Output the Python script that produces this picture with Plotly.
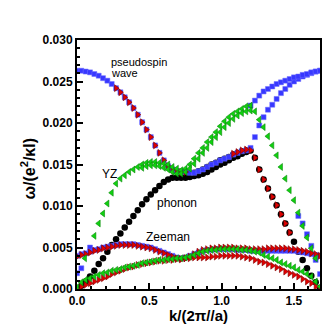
#!/usr/bin/env python
# -*- coding: utf-8 -*-

"""
色散关系图

赝自旋波、YZ、声子和塞曼模式的 ω(k) 散点图
"""

import plotly.graph_objects as go

# k 网格 (单位 2π/a)
K = [0.00, 0.03, 0.06, 0.09, 0.12, 0.15, 0.18, 0.21, 0.24, 0.27,
     0.30, 0.33, 0.36, 0.39, 0.42, 0.45, 0.48, 0.51, 0.54, 0.57,
     0.60, 0.63, 0.66, 0.69, 0.72, 0.75, 0.78, 0.81, 0.84, 0.87,
     0.90, 0.93, 0.96, 0.99, 1.02, 1.05, 1.08, 1.11, 1.14, 1.17,
     1.20, 1.23, 1.26, 1.29, 1.32, 1.35, 1.38, 1.41, 1.44, 1.47,
     1.50, 1.53, 1.56, 1.59, 1.62, 1.65, 1.68]

# 赝自旋波 (蓝色方块)
w_pseudospin = [0.0263, 0.0263, 0.0262, 0.0261, 0.0259, 0.0257, 0.0254, 0.0251, 0.0247, 0.0242,
                0.0237, 0.0231, 0.0225, 0.0218, 0.0210, 0.0201, 0.0192, 0.0183, 0.0173, 0.0164,
                0.0155, 0.0148, 0.0144, 0.0142, 0.0141, 0.0141, 0.0140, 0.0140, 0.0142, 0.0144,
                0.0147, 0.0150, 0.0152, 0.0155, 0.0157, 0.0159, 0.0162, 0.0164, 0.0166, 0.0167,
                0.0170, 0.0183, 0.0197, 0.0207, 0.0216, 0.0222, 0.0229, 0.0236, 0.0241, 0.0246,
                0.0250, 0.0253, 0.0256, 0.0258, 0.0260, 0.0262, 0.0263]

# 声子 (黑色圆点)
w_phonon = [0.0000, 0.0004, 0.0009, 0.0015, 0.0022, 0.0030, 0.0037, 0.0045, 0.0053, 0.0060,
            0.0067, 0.0074, 0.0081, 0.0088, 0.0095, 0.0102, 0.0108, 0.0114, 0.0119, 0.0124,
            0.0129, 0.0132, 0.0134, 0.0134, 0.0134, 0.0134, 0.0135, 0.0136, 0.0137, 0.0139,
            0.0141, 0.0144, 0.0147, 0.0150, 0.0152, 0.0155, 0.0158, 0.0160, 0.0163, 0.0165,
            0.0167, 0.0158, 0.0144, 0.0132, 0.0121, 0.0111, 0.0101, 0.0090, 0.0079, 0.0068,
            0.0057, 0.0045, 0.0035, 0.0025, 0.0016, 0.0008, 0.0001]

# 声子第二支 (k = 0.66 ~ 1.17)
w_phonon_top = [0.0144, 0.0142, 0.0141, 0.0141, 0.0140, 0.0140, 0.0142, 0.0144, 0.0147,
                0.0150, 0.0152, 0.0155, 0.0157, 0.0159, 0.0162, 0.0164, 0.0166, 0.0167]

# 蓝色方块其它分支
k_blue_yz = [0.00, 0.03, 0.09]
w_blue_yz = [0.0019, 0.0025, 0.0050]
w_blue_upper = [0.0221, 0.0227, 0.0233, 0.0238, 0.0241, 0.0244, 0.0247, 0.0249, 0.0251,
                0.0253, 0.0255, 0.0256, 0.0258, 0.0259, 0.0261, 0.0262, 0.0263]
w_blue_right = [0.0088, 0.0079, 0.0066, 0.0052, 0.0035, 0.0018]
w_blue_zeeman = [0.0040, 0.0042, 0.0043, 0.0045, 0.0047, 0.0048, 0.0050, 0.0051, 0.0052, 0.0053,
                 0.0054, 0.0054, 0.0054, 0.0054, 0.0053, 0.0052, 0.0051, 0.0050, 0.0048, 0.0046,
                 0.0044, 0.0042, 0.0040, 0.0038, 0.0037, 0.0038, 0.0040, 0.0042, 0.0044, 0.0046,
                 0.0047, 0.0047, 0.0048, 0.0048, 0.0048, 0.0048, 0.0048, 0.0047, 0.0047, 0.0047,
                 0.0046, 0.0046, 0.0046, 0.0046, 0.0046, 0.0046, 0.0046, 0.0046, 0.0046, 0.0046,
                 0.0046, 0.0045, 0.0044, 0.0043, 0.0042, 0.0041, 0.0040]

# 红色右三角
w_red_left = [0.0242, 0.0237, 0.0231, 0.0225, 0.0218, 0.0210, 0.0201, 0.0192, 0.0183,
              0.0173, 0.0164, 0.0155, 0.0148, 0.0144, 0.0142, 0.0141, 0.0141]
w_red_right = [0.0163, 0.0165, 0.0167, 0.0168, 0.0167, 0.0158, 0.0144,
               0.0132, 0.0121, 0.0111, 0.0101, 0.0090, 0.0079, 0.0068]
w_red_zeeman = [0.0039, 0.0041, 0.0042, 0.0044, 0.0046, 0.0047, 0.0049, 0.0050, 0.0051, 0.0052,
                0.0053, 0.0053, 0.0053, 0.0053, 0.0052, 0.0051, 0.0050, 0.0049, 0.0047, 0.0045,
                0.0043, 0.0041, 0.0039, 0.0037, 0.0036, 0.0037, 0.0039, 0.0042, 0.0045, 0.0047,
                0.0048, 0.0049, 0.0049, 0.0050, 0.0050, 0.0050, 0.0050, 0.0049, 0.0049, 0.0049,
                0.0048, 0.0048, 0.0048, 0.0048, 0.0049, 0.0049, 0.0049, 0.0049, 0.0049, 0.0048,
                0.0048, 0.0047, 0.0046, 0.0045, 0.0043, 0.0042, 0.0040]
w_red_low = [0.0000, 0.0003, 0.0005, 0.0007, 0.0009, 0.0011, 0.0013, 0.0015, 0.0018, 0.0020,
             0.0022, 0.0024, 0.0026, 0.0027, 0.0029, 0.0030, 0.0031, 0.0032, 0.0033, 0.0034,
             0.0034, 0.0035, 0.0035, 0.0036, 0.0036, 0.0037, 0.0037, 0.0038, 0.0038, 0.0038,
             0.0038, 0.0039, 0.0039, 0.0040, 0.0040, 0.0040, 0.0040, 0.0040, 0.0039, 0.0038,
             0.0037, 0.0035, 0.0033, 0.0032, 0.0030, 0.0028, 0.0026, 0.0024, 0.0021, 0.0019,
             0.0017, 0.0015, 0.0012, 0.0009, 0.0007, 0.0003, 0.0000]

# 绿色左三角 (YZ)
k_yz = [0.055] + K[4:56]
w_yz = [0.0037,
        0.0064, 0.0079, 0.0091, 0.0103, 0.0116, 0.0127, 0.0133, 0.0137, 0.0141, 0.0144,
        0.0147, 0.0150, 0.0152, 0.0153, 0.0153, 0.0152, 0.0151, 0.0150, 0.0147, 0.0145,
        0.0143, 0.0145, 0.0150, 0.0157, 0.0164, 0.0170, 0.0177, 0.0183, 0.0189, 0.0196,
        0.0202, 0.0207, 0.0211, 0.0214, 0.0217, 0.0220, 0.0221, 0.0214, 0.0204, 0.0195,
        0.0184, 0.0173, 0.0161, 0.0147, 0.0133, 0.0119, 0.0107, 0.0092, 0.0076, 0.0062,
        0.0049, 0.0037]
w_yz_second = [0.0146, 0.0148, 0.0149, 0.0149, 0.0148, 0.0146, 0.0144, 0.0141, 0.0139,
               0.0139, 0.0141, 0.0145, 0.0151, 0.0157, 0.0164, 0.0170, 0.0177, 0.0183,
               0.0189, 0.0195, 0.0200, 0.0205, 0.0209, 0.0212, 0.0214, 0.0215]
w_green_low = [0.0002, 0.0008, 0.0011, 0.0013, 0.0015, 0.0017, 0.0019, 0.0020, 0.0022, 0.0023,
               0.0024, 0.0026, 0.0027, 0.0028, 0.0029, 0.0031, 0.0032, 0.0033, 0.0034, 0.0035,
               0.0035, 0.0036, 0.0036, 0.0037, 0.0037, 0.0038, 0.0039, 0.0041, 0.0043, 0.0045,
               0.0046, 0.0047, 0.0047, 0.0048, 0.0048, 0.0048, 0.0048, 0.0048, 0.0047, 0.0047,
               0.0046, 0.0045, 0.0044, 0.0041, 0.0039, 0.0037, 0.0035, 0.0032, 0.0030, 0.0028,
               0.0026, 0.0023, 0.0021, 0.0018, 0.0015, 0.0009, 0.0003]

# 文字标注
labels = ["pseudospin", "wave", "YZ", "phonon", "Zeeman"]
label_k = [0.219, 0.219, 0.158, 0.54, 0.466]
label_w = [0.02735, 0.0260, 0.0138, 0.0104, 0.0063]
label_size = [11, 11, 12, 12, 12]

FONT = "Liberation Sans, Arial, Helvetica, sans-serif"

# 标记样式
BLACK = dict(symbol="circle", size=6.5, color="black")
BLUE = dict(symbol="square", size=5, color="#3838ff", line=dict(width=0.5, color="#7070ff"))
RED = dict(symbol="triangle-right", size=6, color="#e00000", line=dict(width=0.6, color="#800000"))
GREEN = dict(symbol="triangle-left", size=6, color="#10d010", line=dict(width=0.6, color="#0a8a0a"))


def add_points(fig, k, w, marker):
    fig.add_trace(go.Scatter(x=k, y=w, mode="markers", marker=marker,
                             hoverinfo="skip", showlegend=False))


fig = go.Figure()

# 绘制顺序: 黑 -> 蓝 -> 红 -> 绿
add_points(fig, K, w_phonon, BLACK)
add_points(fig, K[22:40], w_phonon_top, BLACK)

add_points(fig, K, w_pseudospin, BLUE)
add_points(fig, k_blue_yz, w_blue_yz, BLUE)
add_points(fig, K[40:57], w_blue_upper, BLUE)
add_points(fig, K[51:57], w_blue_right, BLUE)
add_points(fig, K, w_blue_zeeman, BLUE)

add_points(fig, K[9:26], w_red_left, RED)
add_points(fig, K[36:50], w_red_right, RED)
add_points(fig, K, w_red_zeeman, RED)
add_points(fig, K, w_red_low, RED)

add_points(fig, k_yz, w_yz, GREEN)
add_points(fig, K[15:41], w_yz_second, GREEN)
add_points(fig, K, w_green_low, GREEN)

for text, x, y, size in zip(labels, label_k, label_w, label_size):
    fig.add_annotation(x=x, y=y, text=text, showarrow=False, xanchor="left",
                       yanchor="middle", align="left",
                       font=dict(family=FONT, size=size, color="black"))

# 坐标轴标题 (用注释精确定位)
title_font = dict(family=FONT, size=15, color="black", weight="bold")
fig.add_annotation(xref="paper", yref="paper", x=0.5, y=0, yshift=-26,
                   xanchor="center", yanchor="middle", showarrow=False,
                   text="k/(2π//a)", font=title_font)
fig.add_annotation(xref="paper", yref="paper", x=0, y=0.5, xshift=-49, yshift=-4,
                   xanchor="center", yanchor="middle", showarrow=False, textangle=-90,
                   text="ω/(e<sup>2</sup>/κl)", font=dict(title_font, size=16))

axis_common = dict(
    showline=True, linewidth=2, linecolor="black", mirror=True,
    ticks="inside", ticklen=6, tickwidth=1.5, tickcolor="black",
    showgrid=False, zeroline=False,
    tickfont=dict(family=FONT, size=12, color="black", weight="bold"),
)

fig.update_layout(
    width=329, height=328,
    margin=dict(l=77, r=7, t=40, b=39),
    paper_bgcolor="white", plot_bgcolor="white",
    xaxis=dict(
        range=[0, 1.68], tick0=0, dtick=0.5, tickformat=".1f",
        minor=dict(dtick=0.1, ticks="inside", ticklen=3, tickcolor="black"),
        **axis_common),
    yaxis=dict(
        range=[0, 0.030], tick0=0, dtick=0.005, tickformat=".3f",
        minor=dict(dtick=0.001, ticks="inside", ticklen=3, tickcolor="black"),
        **axis_common),
)

# 去掉页面默认边距, 隐藏工具栏
fig.write_html("out.html", config={"displayModeBar": False},
               post_script="document.body.style.margin = '0';")
